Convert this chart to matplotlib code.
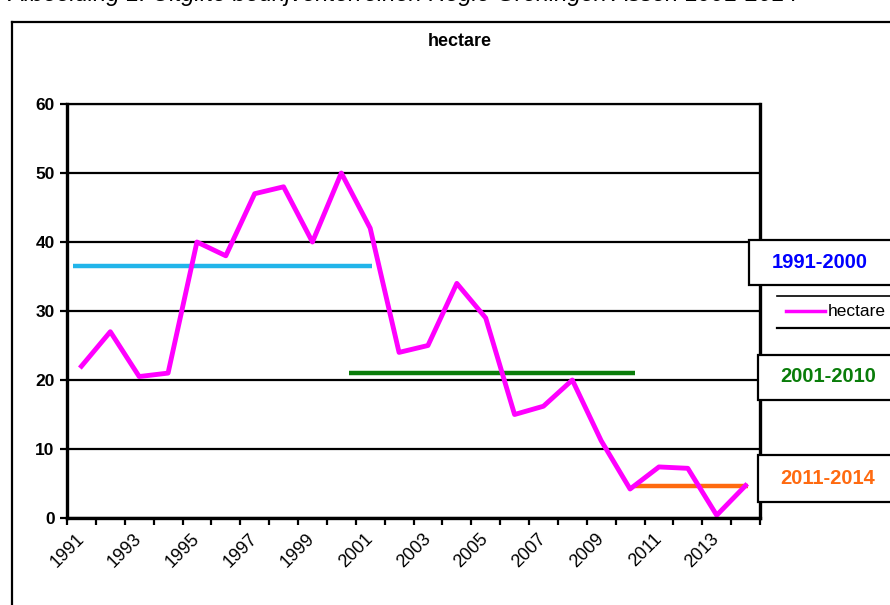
import matplotlib.pyplot as plt
import numpy as np
from matplotlib.patches import Rectangle
from matplotlib.lines import Line2D

plt.rcParams['font.family'] = ['Liberation Sans', 'DejaVu Sans']

years = np.arange(1991, 2015)
hectare = [22, 27, 20.5, 21, 40, 38, 47, 48, 40, 50,
           42, 24, 25, 34, 29, 15, 16.2, 20, 11.2, 4.2,
           7.4, 7.2, 0.4, 4.7]

periods = ['1991-2000', '2001-2010', '2011-2014']
period_avg = [36.5, 21, 4.7]
period_span = [(1990.7, 2001.05), (2000.27, 2010.17), (2010.17, 2014.08)]
period_col = ['#21B5EA', '#0A7D0A', '#FF6A10']
label_col = ['#0000FF', '#0A7D0A', '#FF6A10']

fig = plt.figure(figsize=(8.9, 6.05), dpi=100)
ax = fig.add_axes([67/890, 1-518/605, (760-67)/890, (518-104)/605])

ax.set_xlim(1990.5, 2014.5)
ax.set_ylim(0, 60)
ax.set_yticks(range(0, 61, 10))
ax.grid(axis='y', color='black', lw=1.6)
ax.set_axisbelow(True)

for i in range(3):
    ax.plot(period_span[i], [period_avg[i]]*2, color=period_col[i], lw=3.2,
            solid_capstyle='butt')
ax.plot(years, hectare, color='#FF00FF', lw=3.5)

for s in ax.spines.values():
    s.set_linewidth(2.4)
ax.spines['top'].set_linewidth(1.6)

ax.set_xticks(years[::2])
ax.set_xticklabels([str(y) for y in years[::2]], rotation=45, ha='right',
                   va='center', rotation_mode='anchor', fontsize=13)
ax.set_xticks(np.arange(1990.5, 2015, 1), minor=True)
ax.tick_params(axis='x', which='major', length=0, pad=13)
ax.tick_params(axis='x', which='minor', length=5, width=1.6, direction='out')
ax.tick_params(axis='y', length=5, width=1.6, labelsize=12.5, pad=4)
for t in ax.get_yticklabels():
    t.set_fontweight('bold')

# outer frame
fig.add_artist(Line2D([12/890, 12/890], [0, 1-22/605], color='black', lw=1.6))
fig.add_artist(Line2D([12/890, 1], [1-22/605, 1-22/605], color='black', lw=1.6))

fig.text(460/890, 1-42/605, 'hectare', ha='center', va='center',
         fontsize=13, fontweight='bold')
fig.text(8/890, 1-1/605, 'Afbeelding 1: Uitgifte bedrijventerreinen Regio Groningen Assen 1991-2014',
         ha='left', va='baseline', fontsize=17, style='italic')

# period boxes
boxes = [(749, 240, 285, 820, 262), (758, 355, 400, 828, 377), (758, 455, 502, 828, 478)]
for i, (x0, y0, y1, tx, ty) in enumerate(boxes):
    fig.add_artist(Rectangle((x0/890, 1-y1/605), 200/890, (y1-y0)/605,
                             transform=fig.transFigure, fill=True, facecolor='white',
                             edgecolor='black', lw=1.6))
    fig.text(tx/890, 1-ty/605, periods[i], ha='center', va='center',
             fontsize=14.5, fontweight='bold', color=label_col[i])

# legend
fig.add_artist(Line2D([777/890, 1], [1-296/605]*2, color='black', lw=1.2))
fig.add_artist(Line2D([777/890, 1], [1-328/605]*2, color='black', lw=1.6))
fig.add_artist(Line2D([786/890, 825/890], [1-311/605]*2, color='#FF00FF', lw=2.5))
fig.text(828/890, 1-311/605, 'hectare', ha='left', va='center', fontsize=12.5)

fig.savefig('out.png', dpi=100)
